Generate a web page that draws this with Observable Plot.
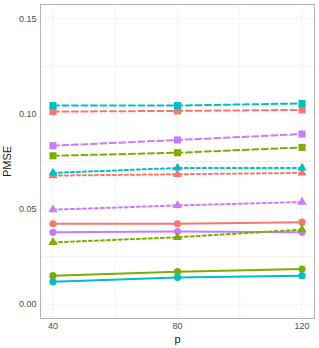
<!DOCTYPE html>
<html>
<head>
<meta charset="utf-8">
<script src="https://cdn.jsdelivr.net/npm/d3@7"></script>
<script src="https://cdn.jsdelivr.net/npm/@observablehq/plot@0.6"></script>
<style>
  html, body { margin: 0; padding: 0; background: #ffffff; }
  #chart { width: 319px; height: 348px; }
</style>
</head>
<body>
<div id="chart"></div>
<script>
// x categories
const p = [40, 80, 120];

// group colours (ggplot defaults)
const groupNames = ["red", "green", "cyan", "purple"];
const groupColors = ["#F8766D", "#7CAE00", "#00BFC4", "#C77CFF"];

// solid lines, circles
const solidRed = [0.0423, 0.0423, 0.0431];
const solidGreen = [0.0150, 0.0171, 0.0185];
const solidCyan = [0.0118, 0.0141, 0.0150];
const solidPurple = [0.0378, 0.0382, 0.0378];

// dashed lines, squares
const dashedRed = [0.1012, 0.1016, 0.1021];
const dashedGreen = [0.0780, 0.0796, 0.0824];
const dashedCyan = [0.1044, 0.1044, 0.1055];
const dashedPurple = [0.0833, 0.0863, 0.0894];

// dotted lines, triangles
const dottedRed = [0.0676, 0.0683, 0.0690];
const dottedGreen = [0.0325, 0.0352, 0.0392];
const dottedCyan = [0.0690, 0.0716, 0.0716];
const dottedPurple = [0.0497, 0.0519, 0.0537];

const yTicks = [0, 0.05, 0.10, 0.15];
const yMinor = [0.025, 0.075, 0.125];
const xTicks = [40, 80, 120];
const xMinor = [60, 100];

const styles = [
  {type: "solid", dash: null, symbol: "circle", r: 3.6,
   values: [solidRed, solidGreen, solidCyan, solidPurple]},
  {type: "dashed", dash: "6,3.5", symbol: "square", r: 4.0,
   values: [dashedRed, dashedGreen, dashedCyan, dashedPurple]},
  {type: "dotted", dash: "3,3", symbol: "triangle", r: 3.4,
   values: [dottedRed, dottedGreen, dottedCyan, dottedPurple]}
];

const marks = [];
// grid
marks.push(Plot.ruleY(yMinor, {stroke: "#ebebeb", strokeWidth: 0.6}));
marks.push(Plot.ruleX(xMinor, {stroke: "#ebebeb", strokeWidth: 0.6}));
marks.push(Plot.ruleY(yTicks, {stroke: "#dedede", strokeWidth: 0.6, strokeDasharray: "2,2"}));
marks.push(Plot.ruleX(xTicks, {stroke: "#dedede", strokeWidth: 0.6, strokeDasharray: "2,2"}));

for (const st of styles) {
  st.values.forEach((vals, gi) => {
    const rows = p.map((x, i) => ({p: x, v: vals[i]}));
    const opts = {x: "p", y: "v", stroke: groupColors[gi], strokeWidth: 2};
    if (st.dash) opts.strokeDasharray = st.dash;
    marks.push(Plot.line(rows, opts));
  });
}
for (const st of styles) {
  st.values.forEach((vals, gi) => {
    const rows = p.map((x, i) => ({p: x, v: vals[i]}));
    marks.push(Plot.dot(rows, {x: "p", y: "v", fill: groupColors[gi], stroke: "none", symbol: st.symbol, r: st.r}));
  });
}

marks.push(Plot.frame({stroke: "#b3b3b3", strokeWidth: 1}));
marks.push(Plot.axisY(yTicks, {tickFormat: d3.format(".2f"), tickSize: 0, tickPadding: 4, fill: "#4d4d4d",
  label: "PMSE", labelAnchor: "center", labelArrow: "none", labelOffset: 37, fontSize: 9}));
marks.push(Plot.axisX(xTicks, {tickSize: 0, tickPadding: 4, fill: "#4d4d4d",
  label: "p", labelAnchor: "center", labelArrow: "none", labelOffset: 24, fontSize: 9}));

const chart = Plot.plot({
  width: 319,
  height: 348,
  marginLeft: 40,
  marginTop: 4,
  marginRight: 5,
  marginBottom: 30,
  x: {domain: [36, 124]},
  y: {domain: [-0.0075, 0.1575]},
  style: {fontFamily: "Liberation Sans, Arial, sans-serif", fontSize: "9px", background: "#ffffff", color: "#000"},
  marks
});
document.getElementById("chart").appendChild(chart);

// axis titles larger, dark, normal weight
chart.querySelectorAll("g[aria-label='y-axis label'], g[aria-label='x-axis label']").forEach(g => {
  g.style.fontWeight = "400";
  g.querySelectorAll("text").forEach(t => {
    t.style.fontSize = "11px";
    t.style.fontWeight = "400";
    t.setAttribute("fill", "#1a1a1a");
  });
});
</script>
</body>
</html>
